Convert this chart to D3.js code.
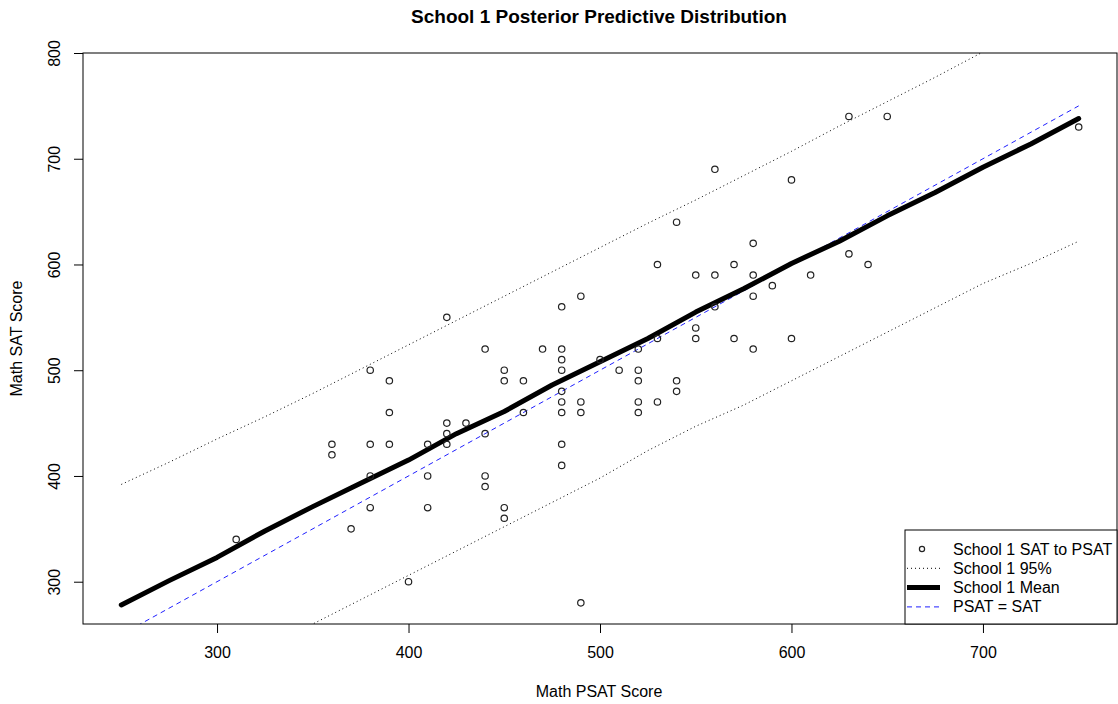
<!DOCTYPE html>
<html>
<head>
<meta charset="utf-8">
<script src="https://cdn.jsdelivr.net/npm/d3@7"></script>
<style>
  body { margin: 0; background: #fff; }
  text { font-family: "Liberation Sans", Arial, sans-serif; fill: #000; }
</style>
</head>
<body>
<svg id="canvas" width="1118" height="704"></svg>
<script>
"use strict";

// observed scores: PSAT (x) and SAT (y)
const psat = [310, 360, 360, 370, 380, 380, 380, 380, 390, 390, 390, 400, 410, 410, 410,
  420, 420, 420, 420, 430, 440, 440, 440, 440, 450, 450, 450, 450, 460, 460, 470,
  480, 480, 480, 480, 480, 480, 480, 480, 480, 490, 490, 490, 490, 500, 510,
  520, 520, 520, 520, 520, 530, 530, 530, 540, 540, 540, 550, 550, 550,
  560, 560, 560, 570, 570, 580, 580, 580, 580, 590, 600, 600, 610,
  630, 630, 640, 650, 750];
const sat = [340, 430, 420, 350, 500, 430, 400, 370, 490, 460, 430, 300, 430, 400, 370,
  550, 450, 440, 430, 450, 520, 440, 400, 390, 500, 490, 370, 360, 490, 460, 520,
  560, 520, 510, 500, 480, 470, 460, 430, 410, 570, 470, 460, 280, 510, 500,
  520, 500, 490, 470, 460, 600, 530, 470, 640, 490, 480, 590, 540, 530,
  690, 590, 560, 600, 530, 620, 590, 570, 520, 580, 680, 530, 590,
  740, 610, 600, 740, 730];

// posterior predictive summary along the PSAT grid
const gridX = [250, 275, 300, 325, 350, 375, 400, 425, 450, 475, 500, 525, 550, 575, 600,
  625, 650, 675, 700, 725, 750];
const meanY = [278, 301, 323, 348, 371, 393, 415, 440, 461, 486, 508, 530, 555, 577, 601,
  622, 646, 668, 692, 714, 738];
const upperY = [392, 413, 435, 456, 478, 501, 524, 547, 570, 593, 616, 639, 661, 684, 707,
  731, 754, 777, 801, 823, 846];
const lowerY = [168, 191, 214, 237, 260, 283, 306, 329, 352, 375, 398, 424, 447, 467, 490,
  513, 536, 559, 582, 601, 622];

const xTicks = [300, 400, 500, 600, 700];
const yTicks = [300, 400, 500, 600, 700, 800];

const legendLabels = ["School 1 SAT to PSAT", "School 1 95%", "School 1 Mean", "PSAT = SAT"];

const svg = d3.select("#canvas");
const plotLeft = 83, plotRight = 1117, plotTop = 53, plotBottom = 624;

const x = d3.scaleLinear().domain([230, 770]).range([plotLeft, plotRight]);
const y = d3.scaleLinear().domain([260, 800]).range([plotBottom, plotTop]);

svg.append("defs").append("clipPath").attr("id", "plotclip")
  .append("rect").attr("x", plotLeft).attr("y", plotTop)
  .attr("width", plotRight - plotLeft).attr("height", plotBottom - plotTop);

const plot = svg.append("g").attr("clip-path", "url(#plotclip)");

const line = d3.line().x((d) => x(d[0])).y((d) => y(d[1]));

// PSAT = SAT reference
plot.append("path")
  .attr("d", line([[250, 250], [750, 750]]))
  .attr("fill", "none").attr("stroke", "#2020ff").attr("stroke-width", 1)
  .attr("stroke-dasharray", "5,4");

// 95% bounds
[upperY, lowerY].forEach((band) => {
  plot.append("path")
    .attr("d", line(gridX.map((g, i) => [g, band[i]])))
    .attr("fill", "none").attr("stroke", "#000").attr("stroke-width", 1)
    .attr("stroke-dasharray", "1,3");
});

// mean
plot.append("path")
  .attr("d", line(gridX.map((g, i) => [g, meanY[i]])))
  .attr("fill", "none").attr("stroke", "#000").attr("stroke-width", 5)
  .attr("stroke-linecap", "round").attr("stroke-linejoin", "round");

// observed points
plot.selectAll("circle")
  .data(psat.map((p, i) => [p, sat[i]]))
  .enter()
  .append("circle")
  .attr("cx", (d) => x(d[0]))
  .attr("cy", (d) => y(d[1]))
  .attr("r", 3.2)
  .attr("fill", "none")
  .attr("stroke", "#222")
  .attr("stroke-width", 1.2);

// axes
const xAxis = svg.append("g").attr("transform", `translate(0,${plotBottom})`)
  .call(d3.axisBottom(x).tickValues(xTicks).tickSize(9).tickPadding(14).tickSizeOuter(0));
xAxis.select(".domain").remove();
xAxis.selectAll("text").style("font-size", "16px").attr("font-family", null);

const yAxis = svg.append("g").attr("transform", `translate(${plotLeft},0)`)
  .call(d3.axisLeft(y).tickValues(yTicks).tickSize(9).tickSizeOuter(0));
yAxis.select(".domain").remove();
yAxis.selectAll("text")
  .attr("font-family", null)
  .style("font-size", "16px")
  .attr("text-anchor", "middle")
  .attr("dy", null)
  .attr("x", null)
  .attr("transform", "translate(-23,0) rotate(-90)");

svg.append("rect")
  .attr("x", plotLeft).attr("y", plotTop)
  .attr("width", plotRight - plotLeft).attr("height", plotBottom - plotTop)
  .attr("fill", "none").attr("stroke", "#000").attr("stroke-width", 1);

// titles
svg.append("text")
  .attr("x", 599).attr("y", 23)
  .attr("text-anchor", "middle")
  .style("font-size", "19px").style("font-weight", "bold")
  .text("School 1 Posterior Predictive Distribution");

svg.append("text")
  .attr("x", 599).attr("y", 697)
  .attr("text-anchor", "middle")
  .style("font-size", "16px")
  .text("Math PSAT Score");

svg.append("text")
  .attr("transform", `translate(22,${(plotTop + plotBottom) / 2}) rotate(-90)`)
  .attr("text-anchor", "middle")
  .style("font-size", "16px")
  .text("Math SAT Score");

// legend
const legend = svg.append("g");
legend.append("rect")
  .attr("x", 905).attr("y", 530).attr("width", plotRight - 905).attr("height", plotBottom - 530)
  .attr("fill", "#fff").attr("stroke", "#000").attr("stroke-width", 1);

const rowY = (i) => 549 + i * 19.3;

legend.append("circle")
  .attr("cx", 922).attr("cy", rowY(0)).attr("r", 2.6)
  .attr("fill", "none").attr("stroke", "#222").attr("stroke-width", 1.2);
legend.append("line")
  .attr("x1", 907).attr("x2", 940).attr("y1", rowY(1)).attr("y2", rowY(1))
  .attr("stroke", "#000").attr("stroke-dasharray", "1,3");
legend.append("line")
  .attr("x1", 907).attr("x2", 940).attr("y1", rowY(2)).attr("y2", rowY(2))
  .attr("stroke", "#000").attr("stroke-width", 5);
legend.append("line")
  .attr("x1", 907).attr("x2", 940).attr("y1", rowY(3)).attr("y2", rowY(3))
  .attr("stroke", "#2020ff").attr("stroke-dasharray", "5,4");

legend.selectAll("text.lab")
  .data(legendLabels)
  .enter()
  .append("text")
  .attr("class", "lab")
  .attr("x", 953)
  .attr("y", (d, i) => rowY(i) + 5.5)
  .style("font-size", "16px")
  .text((d) => d);
</script>
</body>
</html>
